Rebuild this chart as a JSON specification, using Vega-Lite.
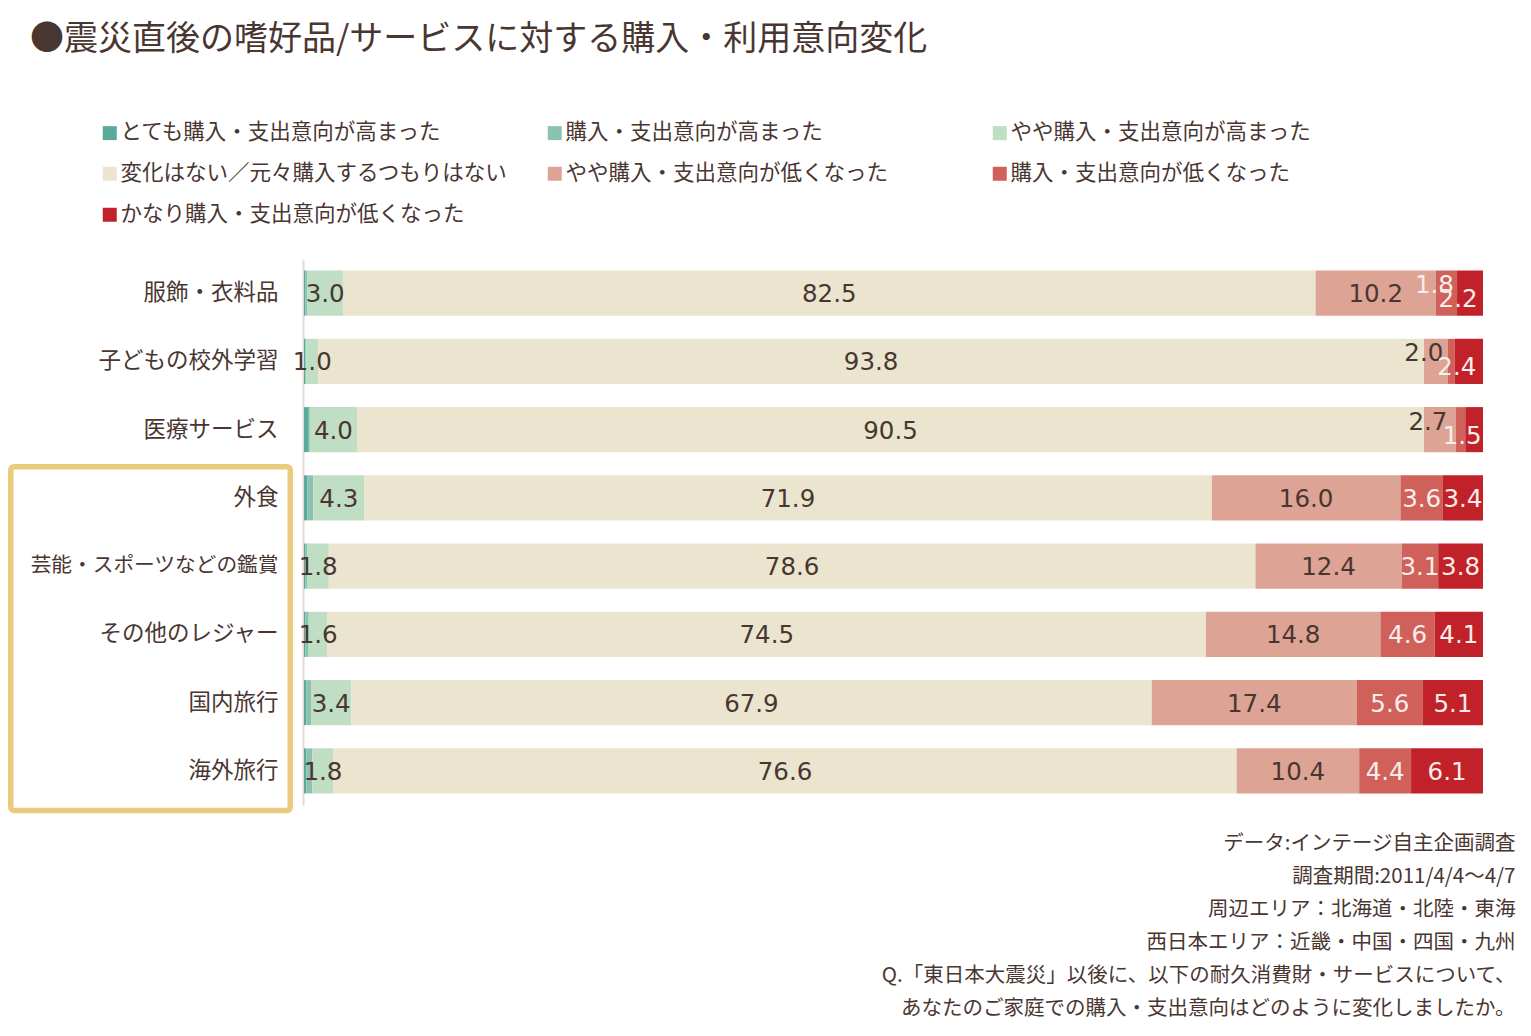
{
  "$schema": "https://vega.github.io/schema/vega-lite/v6.json",
  "width": 1179,
  "height": 546,
  "autosize": {"type": "none"},
  "padding": {"left": 304, "top": 259, "right": 48, "bottom": 231},
  "background": "white",
  "config": {
    "view": {"stroke": null},
    "font": "Noto Sans CJK JP"
  },
  "title": {
    "text": "●震災直後の嗜好品/サービスに対する購入・利用意向変化",
    "orient": "top",
    "anchor": "start",
    "frame": "group",
    "offset": 0,
    "dx": -274,
    "dy": -65,
    "fontSize": 34,
    "fontWeight": "normal",
    "color": "#4a3631"
  },
  "data": {
    "values": [
      {"cat": "服飾・衣料品", "とても購入・支出意向が高まった": 0.1, "購入・支出意向が高まった": 0.2, "やや購入・支出意向が高まった": 3.0, "変化はない／元々購入するつもりはない": 82.5, "やや購入・支出意向が低くなった": 10.2, "購入・支出意向が低くなった": 1.8, "かなり購入・支出意向が低くなった": 2.2},
      {"cat": "子どもの校外学習", "とても購入・支出意向が高まった": 0.1, "購入・支出意向が高まった": 0.1, "やや購入・支出意向が高まった": 1.0, "変化はない／元々購入するつもりはない": 93.8, "やや購入・支出意向が低くなった": 2.0, "購入・支出意向が低くなった": 0.6, "かなり購入・支出意向が低くなった": 2.4},
      {"cat": "医療サービス", "とても購入・支出意向が高まった": 0.4, "購入・支出意向が高まった": 0.1, "やや購入・支出意向が高まった": 4.0, "変化はない／元々購入するつもりはない": 90.5, "やや購入・支出意向が低くなった": 2.7, "購入・支出意向が低くなった": 0.8, "かなり購入・支出意向が低くなった": 1.5},
      {"cat": "外食", "とても購入・支出意向が高まった": 0.3, "購入・支出意向が高まった": 0.5, "やや購入・支出意向が高まった": 4.3, "変化はない／元々購入するつもりはない": 71.9, "やや購入・支出意向が低くなった": 16.0, "購入・支出意向が低くなった": 3.6, "かなり購入・支出意向が低くなった": 3.4},
      {"cat": "芸能・スポーツなどの鑑賞", "とても購入・支出意向が高まった": 0.1, "購入・支出意向が高まった": 0.2, "やや購入・支出意向が高まった": 1.8, "変化はない／元々購入するつもりはない": 78.6, "やや購入・支出意向が低くなった": 12.4, "購入・支出意向が低くなった": 3.1, "かなり購入・支出意向が低くなった": 3.8},
      {"cat": "その他のレジャー", "とても購入・支出意向が高まった": 0.1, "購入・支出意向が高まった": 0.3, "やや購入・支出意向が高まった": 1.6, "変化はない／元々購入するつもりはない": 74.5, "やや購入・支出意向が低くなった": 14.8, "購入・支出意向が低くなった": 4.6, "かなり購入・支出意向が低くなった": 4.1},
      {"cat": "国内旅行", "とても購入・支出意向が高まった": 0.2, "購入・支出意向が高まった": 0.4, "やや購入・支出意向が高まった": 3.4, "変化はない／元々購入するつもりはない": 67.9, "やや購入・支出意向が低くなった": 17.4, "購入・支出意向が低くなった": 5.6, "かなり購入・支出意向が低くなった": 5.1},
      {"cat": "海外旅行", "とても購入・支出意向が高まった": 0.2, "購入・支出意向が高まった": 0.5, "やや購入・支出意向が高まった": 1.8, "変化はない／元々購入するつもりはない": 76.6, "やや購入・支出意向が低くなった": 10.4, "購入・支出意向が低くなった": 4.4, "かなり購入・支出意向が低くなった": 6.1}
    ]
  },
  "transform": [
    {"fold": ["とても購入・支出意向が高まった", "購入・支出意向が高まった", "やや購入・支出意向が高まった", "変化はない／元々購入するつもりはない", "やや購入・支出意向が低くなった", "購入・支出意向が低くなった", "かなり購入・支出意向が低くなった"], "as": ["seg", "v"]},
    {"calculate": "indexof(['とても購入・支出意向が高まった', '購入・支出意向が高まった', 'やや購入・支出意向が高まった', '変化はない／元々購入するつもりはない', 'やや購入・支出意向が低くなった', '購入・支出意向が低くなった', 'かなり購入・支出意向が低くなった'], datum.seg) + 1", "as": "k"},
    {"stack": "v", "groupby": ["cat"], "sort": [{"field": "k", "order": "ascending"}], "as": ["x0", "x1"]},
    {"calculate": "(datum.x0 + datum.x1) / 2", "as": "xm"},
    {"calculate": "(datum.cat === '服飾・衣料品' && datum.k === 6) || ((datum.cat === '子どもの校外学習' || datum.cat === '医療サービス') && datum.k === 5) ? 'up' : (datum.k === 7 && indexof(['服飾・衣料品', '子どもの校外学習', '医療サービス'], datum.cat) >= 0 ? 'down' : 'mid')", "as": "lab"}
  ],
  "layer": [
    {
      "mark": {"type": "bar"},
      "encoding": {
        "y": {
          "field": "cat",
          "type": "nominal",
          "scale": {
            "domain": ["服飾・衣料品", "子どもの校外学習", "医療サービス", "外食", "芸能・スポーツなどの鑑賞", "その他のレジャー", "国内旅行", "海外旅行"],
            "paddingInner": 0.34,
            "paddingOuter": 0.17
          },
          "axis": {
            "title": null,
            "ticks": false,
            "labelFontSize": {"condition": {"test": "datum.value === '芸能・スポーツなどの鑑賞'", "value": 20.7}, "value": 22.5},
            "labelColor": "#4a3631",
            "labelPadding": 25,
            "labelLimit": 400,
            "domainColor": "#e6dbd8",
            "domainWidth": 2,
            "offset": 1
          }
        },
        "x": {
          "field": "x0",
          "type": "quantitative",
          "scale": {"domain": [0, 100], "nice": false},
          "axis": {
            "labels": false,
            "ticks": false,
            "domain": false,
            "grid": false,
            "title": ["データ:インテージ自主企画調査", "調査期間:2011/4/4～4/7", "周辺エリア：北海道・北陸・東海", "西日本エリア：近畿・中国・四国・九州", "Q.「東日本大震災」以後に、以下の耐久消費財・サービスについて、", "あなたのご家庭での購入・支出意向はどのように変化しましたか。"],
            "titleFontSize": 20.5,
            "titleFontWeight": "normal",
            "titleColor": "#4a3631",
            "titleAlign": "right",
            "titleAnchor": "end",
            "titleBaseline": "top",
            "titleLineHeight": 33,
            "titleX": 1211,
            "titleY": 28
          }
        },
        "x2": {"field": "x1"},
        "color": {
          "field": "seg",
          "type": "nominal",
          "scale": {
            "domain": ["とても購入・支出意向が高まった", "購入・支出意向が高まった", "やや購入・支出意向が高まった", "変化はない／元々購入するつもりはない", "やや購入・支出意向が低くなった", "購入・支出意向が低くなった", "かなり購入・支出意向が低くなった"],
            "range": ["#5aaa9c", "#8dc2b0", "#bfdec3", "#ebe5cf", "#dda395", "#d0605a", "#c12128"]
          },
          "legend": {
            "title": null,
            "orient": "none",
            "direction": "horizontal",
            "legendX": -205,
            "legendY": -137,
            "columns": 3,
            "gridAlign": "all",
            "columnPadding": 36,
            "rowPadding": 18,
            "padding": 0,
            "symbolType": "square",
            "symbolSize": 196,
            "symbolStrokeWidth": 0,
            "labelFontSize": 21.5,
            "labelColor": "#4a3631",
            "labelOffset": 0,
            "labelLimit": 500
          }
        }
      }
    },
    {
      "data": {"values": [{}]},
      "mark": {"type": "rect", "filled": false, "stroke": "#eacb7e", "strokeWidth": 5.5, "cornerRadius": 3, "yOffset": -8.5, "y2Offset": 17},
      "encoding": {
        "x": {"datum": -24.87, "type": "quantitative"},
        "x2": {"datum": -1.17},
        "y": {"datum": "外食", "type": "nominal", "bandPosition": 0},
        "y2": {"datum": "海外旅行", "bandPosition": 1}
      }
    },
    {
      "transform": [{"filter": "datum.k >= 3 && datum.v >= 1 && datum.lab === 'mid'"}],
      "mark": {"type": "text", "font": "DejaVu Sans", "fontSize": 24.5, "baseline": "middle", "align": "center", "dy": 2},
      "encoding": {
        "y": {"field": "cat", "type": "nominal"},
        "x": {"field": "xm", "type": "quantitative"},
        "text": {"field": "v", "type": "quantitative", "format": ".1f"},
        "color": {"condition": {"test": "datum.k >= 6", "value": "#f8eeea"}, "value": "#4a3631"}
      }
    },
    {
      "transform": [{"filter": "datum.lab === 'up'"}],
      "mark": {"type": "text", "font": "DejaVu Sans", "fontSize": 24.5, "baseline": "middle", "align": "center", "dx": -12, "dy": -7},
      "encoding": {
        "y": {"field": "cat", "type": "nominal"},
        "x": {"field": "xm", "type": "quantitative"},
        "text": {"field": "v", "type": "quantitative", "format": ".1f"},
        "color": {"condition": {"test": "datum.k >= 6", "value": "#f8eeea"}, "value": "#4a3631"}
      }
    },
    {
      "transform": [{"filter": "datum.lab === 'down'"}],
      "mark": {"type": "text", "font": "DejaVu Sans", "fontSize": 24.5, "baseline": "middle", "align": "center", "dx": -12, "dy": 7},
      "encoding": {
        "y": {"field": "cat", "type": "nominal"},
        "x": {"field": "xm", "type": "quantitative"},
        "text": {"field": "v", "type": "quantitative", "format": ".1f"},
        "color": {"condition": {"test": "datum.k >= 6", "value": "#f8eeea"}, "value": "#4a3631"}
      }
    }
  ]
}
